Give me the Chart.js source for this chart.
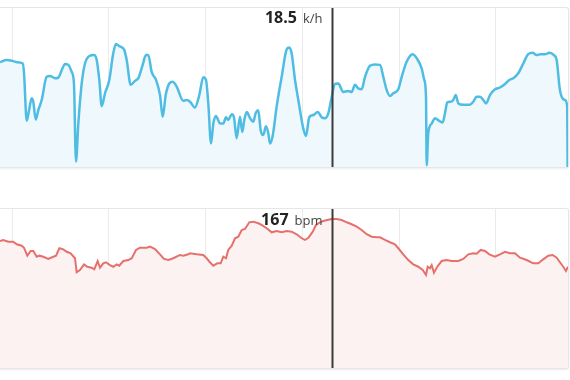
<!DOCTYPE html>
<html>
<head>
<meta charset="utf-8">
<script src="https://cdn.jsdelivr.net/npm/chart.js@4"></script>
<style>
  html, body {
    margin: 0;
    padding: 0;
    background: #fff;
    width: 570px;
    height: 380px;
    overflow: hidden;
    font-family: "Open Sans", sans-serif;
  }
  .card {
    position: absolute;
    left: 0;
    width: 568px;
    height: 159px;
    background: #fff;
    border: 1px solid #e6e6e6;
    border-left: none;
    border-radius: 0 3px 3px 0;
    box-shadow: 0 1px 2px rgba(0, 0, 0, 0.08);
  }
  .card canvas {
    display: block;
  }
</style>
</head>
<body>
<div class="card" style="top: 7px;"><canvas id="speedChart" width="568" height="159"></canvas></div>
<div class="card" style="top: 208px;"><canvas id="hrChart" width="568" height="159"></canvas></div>
<script>
// elapsed ride time (minutes) and values
const speedTime = [
  8.76, 9.45, 10.03, 10.49, 11.11, 11.24, 11.52, 11.76, 12.04, 12.20, 12.45, 12.72,
  13.07, 13.58, 13.93, 14.44, 14.78, 15.13, 15.48, 15.82, 16.17, 16.40, 16.61, 16.85,
  17.20, 17.54, 17.99, 18.47, 18.75, 19.02, 19.27, 19.61, 20.05, 20.46, 20.74, 21.08,
  21.57, 21.85, 22.26, 22.71, 23.05, 23.50, 23.84, 24.08, 24.43, 24.88, 25.29, 25.57,
  25.88, 26.25, 26.60, 27.01, 27.70, 28.05, 28.39, 28.90, 29.35, 29.76, 30.04, 30.28,
  30.56, 30.80, 31.07, 31.49, 31.83, 32.11, 32.34, 32.70, 32.93, 33.21, 33.55, 33.79,
  34.00, 34.25, 34.59, 34.93, 35.17, 35.44, 35.69, 35.96, 36.24, 36.48, 36.65, 36.93,
  37.34, 37.86, 38.38, 38.65, 38.89, 39.24, 39.58, 40.09, 40.37, 40.71, 41.13, 41.58,
  41.99, 42.33, 42.68, 43.03, 43.37, 43.71, 44.22, 44.74, 45.09, 45.43, 45.77, 46.12,
  46.47, 46.98, 47.50, 48.02, 48.36, 48.71, 49.05, 49.39, 49.91, 50.26, 50.77, 51.39,
  51.81, 52.32, 52.59, 52.77, 52.84, 53.00, 53.36, 53.70, 54.14, 54.49, 54.73, 54.97,
  55.32, 55.59, 55.84, 56.11, 56.62, 57.31, 57.65, 58.00, 58.35, 58.69, 58.97, 59.38,
  59.90, 60.41, 60.93, 61.37, 61.79, 62.30, 62.82, 63.33, 63.79, 64.20, 64.61, 65.06,
  65.50, 65.99, 66.27, 66.61, 67.13, 67.36, 67.40
];
const speedKph = [
  23.6, 24.1, 23.9, 23.6, 23.3, 21.2, 10.4, 12.8, 15.5, 14.7, 10.7, 12.8,
  15.1, 20.3, 20.5, 20.0, 20.1, 21.8, 23.2, 23.0, 21.4, 18.8, 1.2, 9.8,
  18.8, 23.3, 25.0, 25.2, 24.1, 19.6, 13.7, 16.6, 19.6, 25.6, 27.7, 27.2,
  26.5, 24.1, 18.5, 19.4, 20.0, 23.0, 25.2, 25.2, 21.4, 19.6, 16.2, 11.3,
  16.2, 18.8, 19.2, 18.1, 14.9, 15.1, 14.7, 13.4, 16.2, 20.2, 19.6, 14.3,
  5.3, 9.8, 11.5, 9.8, 9.8, 11.2, 10.6, 11.9, 11.2, 6.5, 11.3, 7.9,
  10.6, 12.4, 11.0, 10.2, 12.1, 12.8, 8.3, 7.2, 9.2, 7.6, 5.3, 7.0,
  13.6, 20.3, 26.5, 26.9, 25.6, 19.6, 15.1, 8.7, 7.0, 11.2, 11.7, 12.4,
  11.2, 11.0, 12.1, 15.8, 18.7, 18.8, 16.9, 17.1, 16.9, 18.5, 17.7, 17.5,
  20.3, 22.8, 23.1, 23.0, 20.3, 17.3, 16.0, 16.6, 17.5, 20.3, 23.7, 25.4,
  24.5, 22.2, 19.6, 15.8, 0.4, 7.6, 9.8, 11.0, 10.4, 10.0, 12.1, 14.5,
  14.7, 15.1, 16.2, 14.3, 14.0, 14.0, 14.7, 15.8, 15.8, 15.1, 14.3, 16.2,
  17.5, 17.9, 18.7, 19.6, 20.0, 21.1, 23.3, 25.4, 25.7, 25.2, 25.4, 25.4,
  25.7, 25.2, 24.1, 17.3, 15.1, 13.6, 0
];
const hrTime = [
  8.76, 9.10, 9.62, 10.13, 10.49, 11.00, 11.24, 11.58, 11.93, 12.20, 12.55, 12.82,
  13.23, 13.75, 14.27, 14.55, 14.89, 15.30, 15.65, 16.06, 16.51, 16.68, 17.02, 17.44,
  17.78, 18.23, 18.50, 18.85, 19.09, 19.43, 19.71, 20.12, 20.46, 20.82, 21.08, 21.50,
  22.01, 22.37, 22.81, 23.22, 23.91, 24.26, 24.77, 25.29, 25.70, 26.15, 26.66, 27.35,
  27.70, 28.21, 28.39, 29.08, 29.76, 30.11, 30.45, 30.79, 31.21, 31.56, 31.83, 32.11,
  32.34, 32.70, 33.04, 33.38, 33.73, 34.07, 34.51, 34.93, 35.44, 35.79, 36.31, 36.83,
  37.34, 37.86, 38.38, 38.89, 39.41, 39.93, 40.27, 40.62, 41.07, 41.40, 41.82, 42.16,
  42.57, 43.03, 43.54, 44.06, 44.58, 45.09, 45.61, 46.12, 46.64, 47.16, 47.67, 48.02,
  48.53, 49.05, 49.56, 49.91, 50.42, 50.94, 51.45, 51.97, 52.43, 52.77, 52.94, 53.18,
  53.36, 53.59, 53.93, 54.39, 54.90, 55.42, 56.10, 56.62, 57.14, 57.65, 58.00, 58.42,
  58.86, 59.31, 59.89, 60.41, 60.93, 61.44, 61.96, 62.48, 63.17, 63.85, 64.37, 64.88,
  65.40, 65.85, 66.27, 66.61, 66.95, 67.23, 67.44
];
const hrBpm = [
  142.3, 143.5, 141.6, 141.6, 138.6, 137.1, 134.8, 125.9, 131.1, 131.1, 124.7, 125.9,
  124.7, 122.2, 124.7, 125.9, 134.2, 133.0, 130.3, 128.6, 123.0, 107.3, 109.8, 116.2,
  113.5, 112.4, 110.6, 119.9, 112.4, 117.3, 118.5, 115.4, 113.5, 116.2, 114.7, 119.9,
  121.0, 123.0, 132.3, 134.8, 134.8, 136.0, 133.4, 127.4, 122.2, 121.0, 123.0, 126.7,
  125.9, 127.4, 128.6, 127.4, 126.7, 123.0, 118.5, 114.7, 117.3, 117.3, 124.7, 123.0,
  132.3, 137.1, 145.4, 147.2, 154.7, 155.8, 163.3, 164.0, 162.2, 160.3, 156.6, 152.1,
  153.5, 152.1, 153.5, 152.8, 149.9, 145.4, 143.5, 146.0, 152.8, 160.3, 163.3, 164.8,
  165.9, 167.0, 167.0, 165.9, 163.3, 161.1, 158.4, 154.7, 149.9, 147.2, 146.5, 146.5,
  143.5, 140.9, 138.6, 134.2, 127.4, 121.0, 116.2, 113.5, 109.8, 104.2, 113.5, 111.7,
  115.4, 106.8, 113.5, 119.9, 121.0, 119.9, 119.9, 122.2, 127.4, 128.6, 128.1, 132.3,
  131.1, 127.4, 124.7, 127.4, 130.3, 128.6, 128.6, 123.6, 121.0, 117.3, 117.3, 121.8,
  125.9, 126.7, 123.6, 118.5, 113.5, 108.7, 113.5
];
const gridTimes = [10, 20, 30, 40, 50, 60];
const cursorTime = 43.03;
const cursorSpeed = "18.5";
const cursorHeartRate = "167";

const cursorPlugin = {
  id: "cursor",
  afterDatasetsDraw(chart, args, opts) {
    const { ctx, chartArea } = chart;
    const x = Math.round(chart.scales.x.getPixelForValue(opts.time)) + 0.5;
    ctx.save();
    ctx.strokeStyle = "#3b3b3b";
    ctx.lineWidth = 2;
    ctx.beginPath();
    ctx.moveTo(x, chartArea.top);
    ctx.lineTo(x, chartArea.bottom);
    ctx.stroke();

    ctx.textBaseline = "alphabetic";
    ctx.textAlign = "right";
    ctx.fillStyle = "#444";
    ctx.font = "13px 'Open Sans', sans-serif";
    const unitRight = x - 10;
    ctx.fillText(opts.unit, unitRight, opts.baseline);
    const unitW = ctx.measureText(opts.unit).width;
    ctx.fillStyle = "#222";
    ctx.font = "bold 16px 'Open Sans', sans-serif";
    ctx.fillText(opts.value, unitRight - unitW - 6, opts.baseline);
    ctx.restore();
  },
};

function makeChart(id, times, values, color, fillColor, yMax, smooth, cursor) {
  return new Chart(document.getElementById(id), {
    type: "line",
    data: {
      datasets: [
        {
          data: times.map((t, i) => ({ x: t, y: values[i] })),
          borderColor: color,
          backgroundColor: fillColor,
          borderWidth: smooth ? 2.5 : 2,
          fill: "start",
          pointRadius: 0,
          tension: 0,
          cubicInterpolationMode: smooth ? "monotone" : "default",
          clip: false,
        },
      ],
    },
    options: {
      responsive: false,
      animation: false,
      devicePixelRatio: 1,
      layout: { padding: 0 },
      plugins: {
        legend: { display: false },
        tooltip: { enabled: false },
        cursor: cursor,
      },
      scales: {
        x: {
          type: "linear",
          min: 8.76,
          max: 67.44,
          afterBuildTicks: (axis) => {
            axis.ticks = gridTimes.map((v) => ({ value: v }));
          },
          ticks: { display: false },
          grid: { color: "#ebebeb", lineWidth: 1, drawTicks: false },
          border: { display: false },
        },
        y: {
          display: false,
          min: 0,
          max: yMax,
        },
      },
    },
    plugins: [cursorPlugin],
  });
}

makeChart("speedChart", speedTime, speedKph, "#4fbde3", "#eef8fd", 35.8, true,
  { time: cursorTime, value: cursorSpeed, unit: "k/h", baseline: 15 });
makeChart("hrChart", hrTime, hrBpm, "#e5706c", "#fdf2f2", 178.2, false,
  { time: cursorTime, value: cursorHeartRate, unit: "bpm", baseline: 16 });
</script>
</body>
</html>
